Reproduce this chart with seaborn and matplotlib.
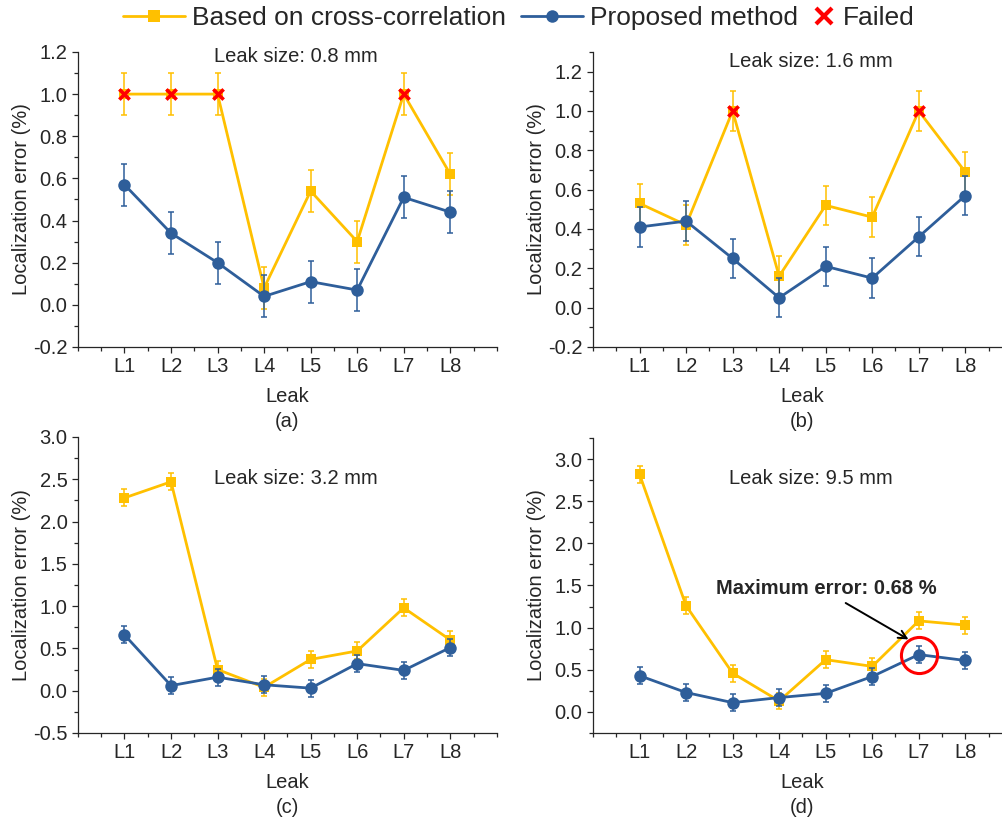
"""Leak localization error: cross-correlation vs proposed method, four leak sizes."""

import matplotlib

matplotlib.use("Agg")
import matplotlib.pyplot as plt
import pandas as pd
import seaborn as sns
from matplotlib.lines import Line2D
from matplotlib.ticker import MultipleLocator

# --- data -----------------------------------------------------------------
leaks = ["L1", "L2", "L3", "L4", "L5", "L6", "L7", "L8"]
leak_sizes = ["0.8 mm", "1.6 mm", "3.2 mm", "9.5 mm"]
panel_tags = ["(a)", "(b)", "(c)", "(d)"]

cross_err = [
    [1.00, 1.00, 1.00, 0.08, 0.54, 0.30, 1.00, 0.62],
    [0.53, 0.42, 1.00, 0.16, 0.52, 0.46, 1.00, 0.69],
    [2.28, 2.47, 0.25, 0.04, 0.37, 0.47, 0.98, 0.60],
    [2.82, 1.26, 0.46, 0.13, 0.62, 0.54, 1.08, 1.03],
]
proposed_err = [
    [0.57, 0.34, 0.20, 0.04, 0.11, 0.07, 0.51, 0.44],
    [0.41, 0.44, 0.25, 0.05, 0.21, 0.15, 0.36, 0.57],
    [0.66, 0.06, 0.16, 0.07, 0.03, 0.32, 0.24, 0.51],
    [0.43, 0.23, 0.11, 0.17, 0.22, 0.42, 0.68, 0.61],
]
# error bar half-width (same for every point)
std_err = 0.1
# leaks where cross-correlation failed (plotted at 1.0)
failed = [["L1", "L2", "L3", "L7"], ["L3", "L7"], [], []]

ylims = [(-0.2, 1.2), (-0.2, 1.3), (-0.5, 3.0), (-0.25, 3.25)]
ysteps = [0.2, 0.2, 0.5, 0.5]

YELLOW = "#FFC000"
BLUE = "#2E5E9A"
RED = "#FF0000"

sns.set_style("ticks")
plt.rcParams["font.family"] = ["Liberation Sans", "DejaVu Sans"]
plt.rcParams["axes.linewidth"] = 0.9

fig = plt.figure(figsize=(10.02, 8.22), dpi=100)
positions = [
    [0.0778, 0.5779, 0.418, 0.3589],
    [0.5918, 0.5779, 0.418, 0.3589],
    [0.0778, 0.1083, 0.418, 0.3601],
    [0.5918, 0.1083, 0.418, 0.3589],
]
text_y = [0.983, 0.966, 0.861, 0.864]

pos = list(range(1, len(leaks) + 1))

for i in range(4):
    ax = fig.add_axes(positions[i])
    df = pd.DataFrame({
        "pos": pos * 2,
        "err": cross_err[i] + proposed_err[i],
        "method": ["cross"] * 8 + ["proposed"] * 8,
    })
    ax.errorbar(pos, cross_err[i], yerr=std_err, fmt="none", ecolor=YELLOW,
                elinewidth=1.1, capsize=2.5, capthick=1.1, zorder=2)
    ax.errorbar(pos, proposed_err[i], yerr=std_err, fmt="none", ecolor=BLUE,
                elinewidth=1.1, capsize=2.5, capthick=1.1, zorder=4)
    sns.lineplot(data=df[df.method == "cross"], x="pos", y="err", color=YELLOW,
                 marker="s", markersize=7.5, markeredgewidth=0, linewidth=2,
                 ax=ax, legend=False, zorder=3)
    sns.lineplot(data=df[df.method == "proposed"], x="pos", y="err", color=BLUE,
                 marker="o", markersize=9, markeredgewidth=0, linewidth=2,
                 ax=ax, legend=False, zorder=5)
    if failed[i]:
        fx = [leaks.index(l) + 1 for l in failed[i]]
        fy = [cross_err[i][leaks.index(l)] for l in failed[i]]
        sns.scatterplot(x=fx, y=fy, marker="x", color=RED, s=55, linewidth=2.6,
                        ax=ax, zorder=6, legend=False)

    ax.set_xlim(0, 9)
    ax.set_ylim(*ylims[i])
    ax.set_xticks(pos)
    ax.set_xticklabels(leaks)
    ax.xaxis.set_minor_locator(MultipleLocator(0.5))
    ax.yaxis.set_major_locator(MultipleLocator(ysteps[i]))
    ax.yaxis.set_minor_locator(MultipleLocator(ysteps[i] / 2))
    ax.set_yticks([t for t in ax.get_yticks()
                   if ylims[i][0] - 1e-9 <= t <= ylims[i][1] + 1e-9])
    ax.yaxis.set_major_formatter(plt.FormatStrFormatter("%.1f"))
    ax.tick_params(which="major", direction="out", length=4.5, width=0.9,
                   labelsize=14.5, pad=3)
    ax.tick_params(which="minor", direction="out", length=3, width=0.9)
    sns.despine(ax=ax)

    ax.set_xlabel("Leak", fontsize=14.5)
    ax.set_ylabel("Localization error (%)", fontsize=14.5)
    ax.xaxis.set_label_coords(0.5, -0.135)
    ax.yaxis.set_label_coords(-0.112, 0.5)
    ax.text(0.5, -0.252, panel_tags[i], transform=ax.transAxes,
            ha="center", va="center", fontsize=14.5)
    ax.text(0.52, text_y[i], f"Leak size: {leak_sizes[i]}",
            transform=ax.transAxes, ha="center", va="center", fontsize=14.5)

    if i == 3:
        k = proposed_err[i].index(max(proposed_err[i]))
        ax.plot(pos[k], proposed_err[i][k], marker="o", markersize=26,
                markerfacecolor="none", markeredgecolor=RED,
                markeredgewidth=2.2, zorder=7)
        ax.annotate(f"Maximum error: {proposed_err[i][k]:.2f} %",
                    xy=(6.78, 0.86), xytext=(5.02, 1.46),
                    ha="center", va="center", fontsize=14.5, fontweight="bold",
                    arrowprops=dict(arrowstyle="->", color="black", lw=1.4,
                                    relpos=(0.55, 0.0), shrinkA=2, shrinkB=0))

# legend
h1 = Line2D([], [], color=YELLOW, marker="s", markersize=9, markeredgewidth=0,
            linewidth=2)
h2 = Line2D([], [], color=BLUE, marker="o", markersize=9, markeredgewidth=0,
            linewidth=2)
h3 = Line2D([], [], color=RED, marker="x", linestyle="none", markersize=11,
            markeredgewidth=3)
fig.legend([h1, h2], ["Based on cross-correlation", "Proposed method"],
           loc="center left", bbox_to_anchor=(0.1228, 0.978), ncol=2,
           frameon=False, fontsize=19, handlelength=2.35, handletextpad=0.27,
           columnspacing=0.57, borderpad=0, borderaxespad=0)
fig.legend([h3], ["Failed"], loc="center left", bbox_to_anchor=(0.813, 0.978),
           frameon=False, fontsize=19, handlelength=0.7, handletextpad=0.38,
           borderpad=0, borderaxespad=0)

fig.savefig("out.png", dpi=100)
